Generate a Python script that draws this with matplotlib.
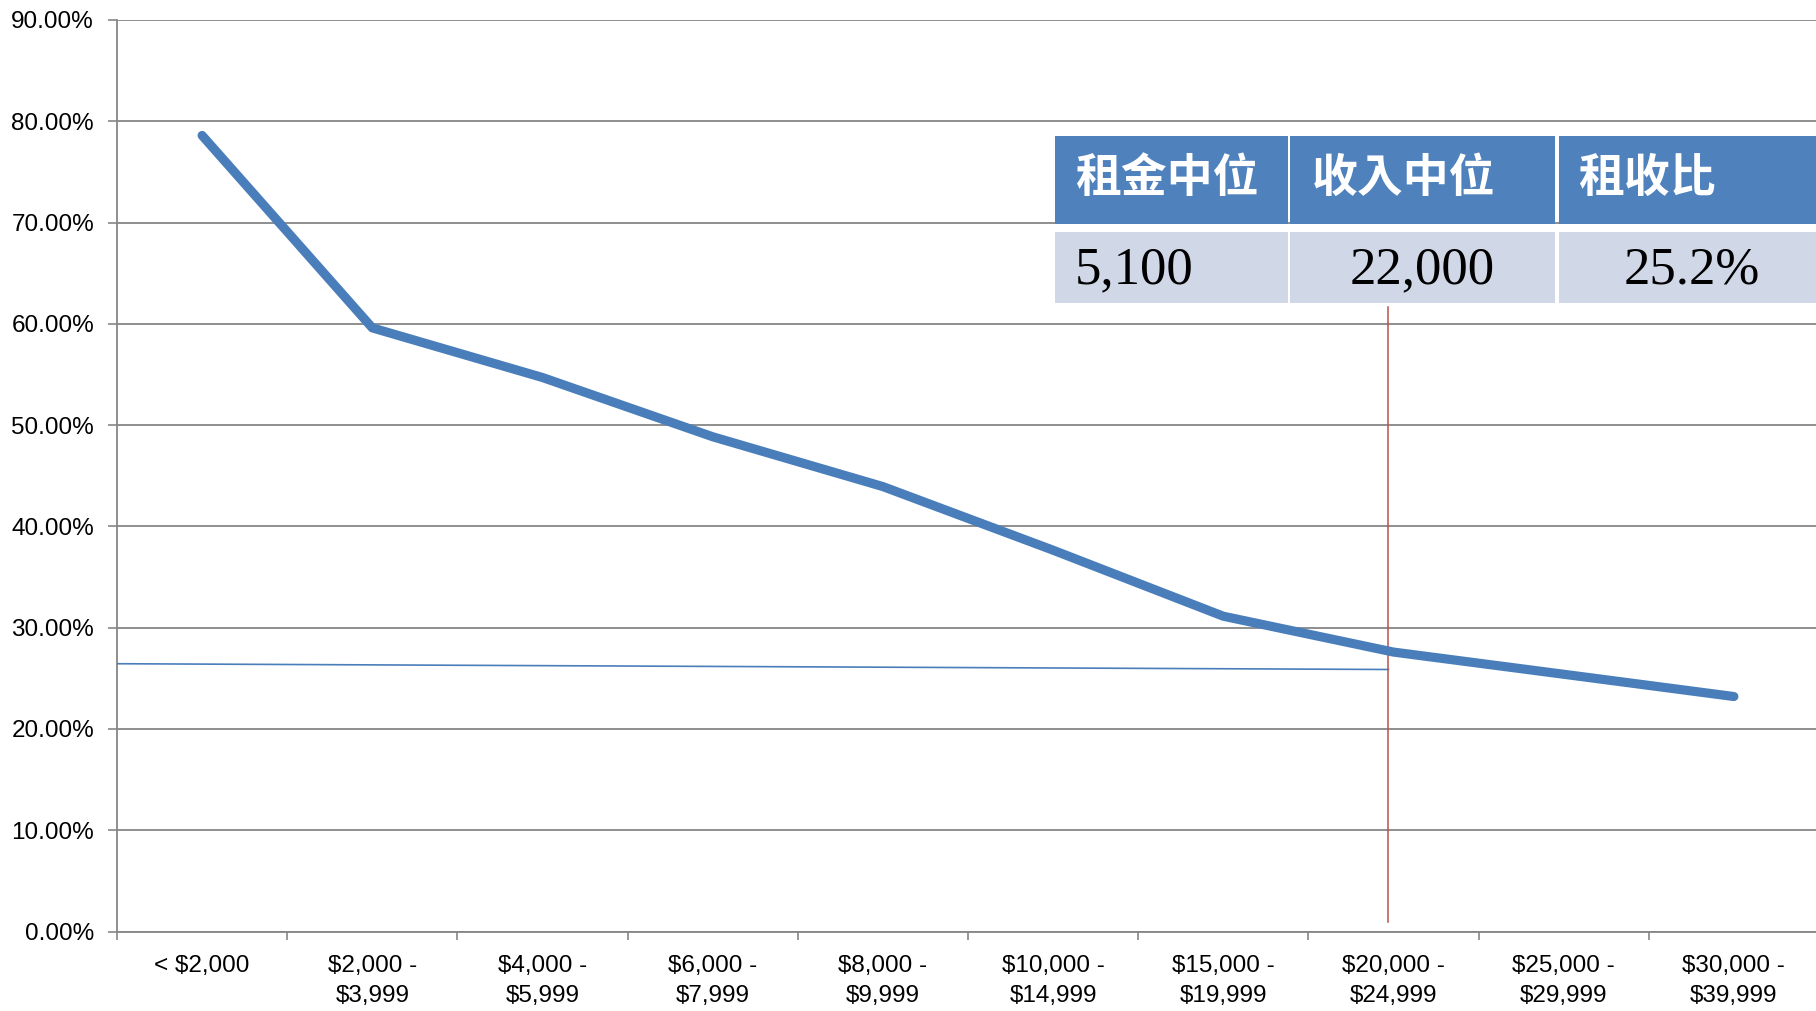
import matplotlib.pyplot as plt
from matplotlib.patches import Rectangle
from matplotlib.ticker import PercentFormatter

categories = [
    "< $2,000", "$2,000 -\n$3,999", "$4,000 -\n$5,999", "$6,000 -\n$7,999",
    "$8,000 -\n$9,999", "$10,000 -\n$14,999", "$15,000 -\n$19,999",
    "$20,000 -\n$24,999", "$25,000 -\n$29,999", "$30,000 -\n$39,999",
]
rent_share = [0.786, 0.596, 0.547, 0.4885, 0.4393, 0.3765, 0.3113, 0.2759, 0.254, 0.232]

# thin reference line and the median-income marker
ref_x = [-0.5, 6.97]
ref_y = [0.2644, 0.2587]
median_x = 6.965
median_span = [0.0094, 0.6165]

table_header = ["租金中位", "收入中位", "租收比"]
table_values = ["5,100", "22,000", "25.2%"]

BLUE = "#4A7EBB"
GRID = "#868686"
CJK = ["Noto Sans CJK TC", "DejaVu Sans"]

plt.rcParams["font.family"] = ["Liberation Sans", "DejaVu Sans"]

fig = plt.figure(figsize=(18.16, 10.11), dpi=100)
W, H = 1816, 1011
ax = fig.add_axes([117 / W, (H - 931.5) / H, 1702 / W, 911.5 / H])

ax.plot(range(len(categories)), rent_share, color=BLUE, lw=6.6,
        solid_capstyle="round", solid_joinstyle="round", zorder=4)
ax.plot(ref_x, ref_y, color=BLUE, lw=1.2, zorder=3)
ax.plot([median_x, median_x], median_span, color="#C0504D", lw=1.1, zorder=3)

ax.set_xlim(-0.5, len(categories) - 0.5)
ax.set_ylim(0, 0.9)
ax.set_yticks([i / 10 for i in range(10)])
ax.yaxis.set_major_formatter(PercentFormatter(1.0, decimals=2))
ax.set_xticks(range(len(categories)))
ax.set_xticklabels(categories, linespacing=1.45)
ax.set_xticks([i - 0.5 for i in range(len(categories) + 1)], minor=True)
ax.tick_params(axis="x", which="major", length=0, pad=17, labelsize=17.5)
ax.tick_params(axis="x", which="minor", length=5.5, width=1.2, color=GRID)
ax.tick_params(axis="y", length=6.5, width=1.2, color=GRID, pad=10, labelsize=17.5)
ax.grid(axis="y", color=GRID, lw=1.3)
ax.set_axisbelow(True)
for side in ("top", "right"):
    ax.spines[side].set_visible(False)
for side in ("left", "bottom"):
    ax.spines[side].set_color(GRID)
    ax.spines[side].set_linewidth(1.3)

# summary table drawn in figure pixels
ov = fig.add_axes([0, 0, 1, 1])
ov.set_xlim(0, W)
ov.set_ylim(H, 0)
ov.axis("off")
cols = [(1055, 1288), (1290, 1555), (1559, 1824)]
for (x0, x1), head, val, tx, ha in zip(cols, table_header, table_values,
                                        [1075, 1312, 1578], ["left", "center", "center"]):
    ov.add_patch(Rectangle((x0, 135.5), x1 - x0, 88, color="#4F81BD", lw=0))
    ov.add_patch(Rectangle((x0, 231.6), x1 - x0, 71.8, color="#D0D8E8", lw=0))
    ov.text(tx, 179, head, color="white", fontsize=33, fontweight="bold",
            family=CJK, ha="left", va="center")
    vx = tx if ha == "left" else (x0 + x1) / 2 if x1 < W else 1692
    ov.text(vx, 270, val, color="black", fontsize=38, family="Liberation Serif",
            ha=ha, va="center")

fig.savefig("out.png", dpi=100)
